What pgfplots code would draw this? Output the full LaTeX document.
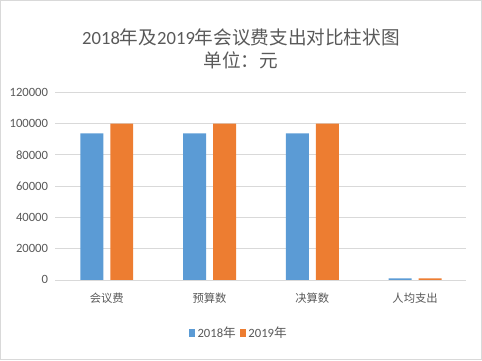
\documentclass[border=0pt]{standalone}
\usepackage{pgfplots}
\pgfplotsset{compat=1.18}
\usepackage{fontspec}
\setmainfont{Carlito}
\newfontfamily\cjk{Noto Sans CJK SC}
\definecolor{cblue}{HTML}{5B9BD5}
\definecolor{corange}{HTML}{ED7D31}
\definecolor{cgrid}{HTML}{D9D9D9}
\definecolor{ctext}{HTML}{595959}
\begin{document}
\begin{tikzpicture}
\draw[cgrid, line width=0.8pt] (-41.25pt,-60pt) rectangle (320.25pt,210pt);
\begin{axis}[
  at={(0,0)}, anchor=south west,
  scale only axis, width=309pt, height=141pt,
  xmin=-0.5, xmax=3.5, ymin=0, ymax=120000,
  ybar=5.25pt, bar width=17.25pt,
  xtick={0,1,2,3},
  xticklabels={{\cjk 会议费},{\cjk 预算数},{\cjk 决算数},{\cjk 人均支出}},
  ytick={0,20000,40000,60000,80000,100000,120000},
  scaled y ticks=false,
  /pgf/number format/assume math mode=true,
  yticklabel={\pgfmathprintnumber[fixed,1000 sep={}]{\tick}},
  tick label style={font=\fontsize{9.5}{11}\selectfont, text=ctext},
  xticklabel style={font=\cjk\fontsize{8.5}{10}\selectfont, text=ctext, yshift=-6.5pt},
  yticklabel style={xshift=-2pt},
  major tick length=0pt,
  axis line style={draw=none},
  ymajorgrids, grid style={cgrid, line width=0.6pt},
  legend columns=2,
  legend style={at={(0.447,-0.282)}, anchor=center, draw=none, fill=none,
    font=\fontsize{9.5}{11}\selectfont, text=ctext,
    /tikz/every even column/.append style={column sep=1pt},
    /tikz/every odd column/.append style={column sep=0pt}},
  legend image code/.code={\fill[#1] (0pt,-3pt) rectangle (4.5pt,3pt);},
]
\addplot[fill=cblue, draw=none] coordinates {(0,93800) (1,93800) (2,93800) (3,1000)};
\addplot[fill=corange, draw=none] coordinates {(0,100000) (1,100000) (2,100000) (3,1000)};
\legend{2018{\cjk 年},2019{\cjk 年}}
\end{axis}
\node[text=ctext, font=\fontsize{14}{16}\selectfont] at (139.5pt,182.5pt) {2018{\cjk 年及}2019{\cjk 年会议费支出对比柱状图}};
\node[text=ctext, font=\cjk\fontsize{14}{16}\selectfont] at (139.5pt,165pt) {单位：元};
\end{tikzpicture}
\end{document}
